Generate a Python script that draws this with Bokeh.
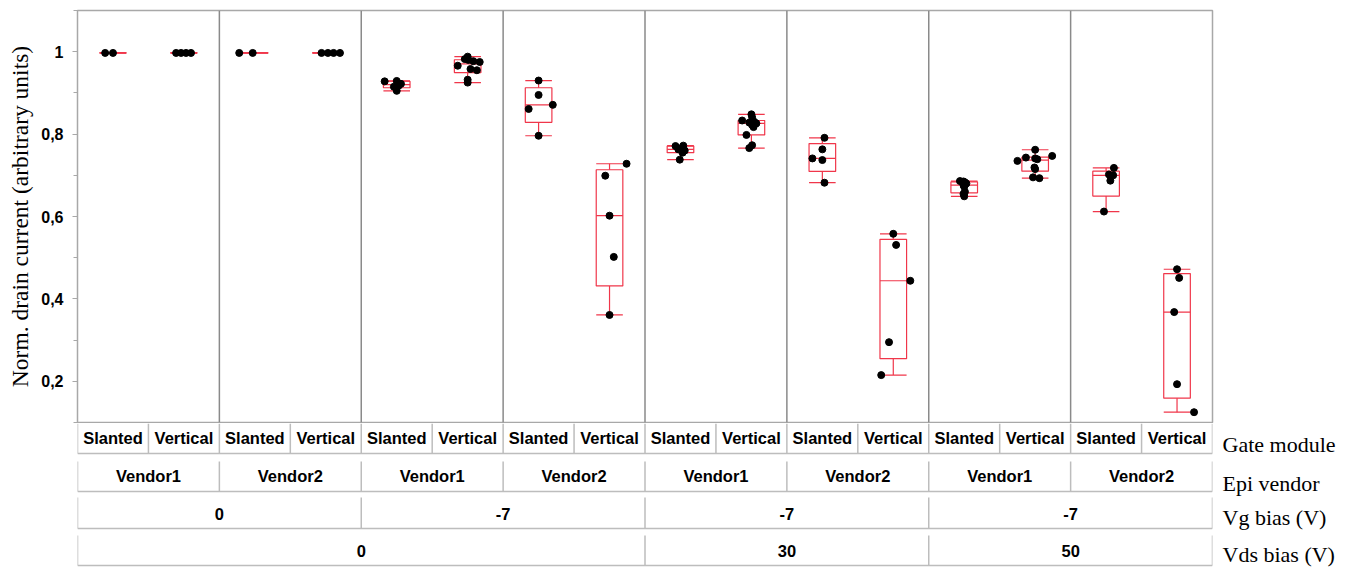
import numpy as np
from bokeh.plotting import figure
from bokeh.layouts import column
from bokeh.models import Range1d, FixedTicker, Span, LinearAxis
from bokeh.core.properties import value
from bokeh.embed import file_html
from bokeh.resources import INLINE

# ---------------- data ----------------
vds_bias = ["0"] * 8 + ["30"] * 4 + ["50"] * 4
vg_bias = ["0"] * 4 + ["-7"] * 12
epi_vendor = ["Vendor1", "Vendor1", "Vendor2", "Vendor2"] * 4
gate_module = ["Slanted", "Vertical"] * 8

row_titles = ["Gate module", "Epi vendor", "Vg bias (V)", "Vds bias (V)"]
y_ticks = [0.2, 0.4, 0.6, 0.8, 1.0]
y_tick_labels = ["0,2", "0,4", "0,6", "0,8", "1"]
y_minor = [0.1, 0.3, 0.5, 0.7, 0.9, 1.1]

# normalized drain current per group (16 groups, left to right)
g01 = [0.997, 0.997]
g02 = [0.997, 0.997, 0.997, 0.997]
g03 = [0.997, 0.997]
g04 = [0.997, 0.997, 0.997, 0.997]
g05 = [0.928, 0.929, 0.922, 0.918, 0.915, 0.905]
g06 = [0.988, 0.982, 0.980, 0.977, 0.975, 0.966, 0.958, 0.955, 0.932, 0.925]
g07 = [0.930, 0.895, 0.861, 0.871, 0.796]
g08 = [0.728, 0.699, 0.602, 0.502, 0.361]
g09 = [0.772, 0.771, 0.766, 0.763, 0.760, 0.755, 0.738]
g10 = [0.848, 0.841, 0.833, 0.830, 0.828, 0.826, 0.822, 0.817, 0.798, 0.773, 0.766]
g11 = [0.791, 0.763, 0.741, 0.737, 0.682]
g12 = [0.558, 0.531, 0.444, 0.295, 0.215]
g13 = [0.686, 0.685, 0.683, 0.680, 0.676, 0.672, 0.660, 0.655, 0.649]
g14 = [0.762, 0.747, 0.743, 0.741, 0.739, 0.735, 0.719, 0.715, 0.695, 0.693]
g15 = [0.718, 0.702, 0.700, 0.687, 0.612]
g16 = [0.472, 0.451, 0.368, 0.193, 0.125]
groups = [g01, g02, g03, g04, g05, g06, g07, g08, g09, g10, g11, g12, g13, g14, g15, g16]

# horizontal jitter of the points (fraction of a category width)
j01 = [-0.11, 0.0]
j02 = [-0.11, -0.04, 0.03, 0.10]
j03 = [-0.22, -0.03]
j04 = [-0.06, 0.03, 0.11, 0.20]
j05 = [-0.17, 0.0, 0.06, 0.03, -0.04, 0.0]
j06 = [0.0, -0.04, 0.01, 0.08, 0.17, -0.14, 0.04, 0.13, 0.0, 0.0]
j07 = [0.0, 0.0, -0.14, 0.20, 0.0]
j08 = [0.24, -0.06, 0.0, 0.06, 0.0]
j09 = [0.04, -0.07, 0.01, -0.03, 0.06, 0.03, -0.01]
j10 = [0.0, 0.01, -0.13, 0.04, -0.03, 0.07, 0.01, 0.03, -0.07, 0.01, -0.03]
j11 = [0.03, 0.0, -0.14, 0.0, 0.03]
j12 = [0.0, 0.04, 0.24, -0.06, -0.17]
j13 = [-0.06, -0.01, 0.01, 0.03, -0.01, 0.0, 0.01, -0.01, 0.0]
j14 = [0.0, 0.24, -0.13, 0.0, 0.03, -0.25, -0.01, 0.0, -0.03, 0.06]
j15 = [0.11, 0.04, 0.10, 0.06, -0.03]
j16 = [0.0, 0.03, -0.04, 0.0, 0.24]
jitters = [j01, j02, j03, j04, j05, j06, j07, j08, j09, j10, j11, j12, j13, j14, j15, j16]

# ---------------- styles / layout ----------------
W = 1345
LEFT = 77
RIGHT = 133
TOP = 10
MAIN_H = 423
ROWS_H = 144
BOX_W = 0.375
RED = "#f0364a"
SERIF = "Liberation Serif"
SANS = "Liberation Sans"
n_cat = len(gate_module)

p = figure(width=W, height=MAIN_H, x_range=Range1d(0, n_cat), y_range=Range1d(0.1, 1.1),
           toolbar_location=None, output_backend="svg", x_axis_location=None,
           min_border_left=LEFT, min_border_right=RIGHT, min_border_top=TOP,
           min_border_bottom=1)
p.xgrid.visible = False
p.ygrid.visible = False
p.outline_line_color = "#a8a8a8"
p.outline_line_width = 1.5

ax = p.yaxis[0]
ax.ticker = FixedTicker(ticks=y_ticks, minor_ticks=y_minor)
ax.major_label_overrides = {t: l for t, l in zip(y_ticks, y_tick_labels)}
ax.axis_line_color = "#a8a8a8"
ax.major_tick_line_color = "#a8a8a8"
ax.minor_tick_line_color = "#a8a8a8"
ax.major_tick_in = 0
ax.major_tick_out = 5
ax.minor_tick_in = 0
ax.minor_tick_out = 4
ax.major_label_standoff = 9
ax.major_label_text_font = SANS
ax.major_label_text_font_style = "bold"
ax.major_label_text_font_size = "16px"
ax.major_label_text_color = "black"
ax.axis_label = "Norm. drain current (arbitrary units)"
ax.axis_label_text_font = SERIF
ax.axis_label_text_font_style = "normal"
ax.axis_label_text_font_size = "23.5px"
ax.axis_label_text_color = "black"
ax.axis_label_standoff = 5

# separators between epi-vendor panels
for i in range(1, n_cat):
    if (vds_bias[i], vg_bias[i], epi_vendor[i]) != (vds_bias[i - 1], vg_bias[i - 1], epi_vendor[i - 1]):
        p.add_layout(Span(location=i, dimension="height", line_color="#8a8a8a", line_width=1.5))

# box plots (quartiles from the data)
bx_l, bx_r, q1s, q3s, meds, lo_w, hi_w, ctr = [], [], [], [], [], [], [], []
for i, vals in enumerate(groups):
    v = np.array(vals)
    q1, med, q3 = np.quantile(v, [0.25, 0.5, 0.75], method="weibull")
    iqr = q3 - q1
    lo = v[v >= q1 - 1.5 * iqr].min()
    hi = v[v <= q3 + 1.5 * iqr].max()
    c = i + 0.5
    ctr.append(c)
    bx_l.append(c - BOX_W / 2)
    bx_r.append(c + BOX_W / 2)
    q1s.append(q1)
    q3s.append(q3)
    meds.append(med)
    lo_w.append(lo)
    hi_w.append(hi)

p.quad(left=bx_l, right=bx_r, bottom=q1s, top=q3s, fill_color=None, line_color=RED, line_width=1.2)
p.segment(x0=bx_l, x1=bx_r, y0=meds, y1=meds, line_color=RED, line_width=1.2)
p.segment(x0=ctr, x1=ctr, y0=q3s, y1=hi_w, line_color=RED, line_width=1.2)
p.segment(x0=ctr, x1=ctr, y0=q1s, y1=lo_w, line_color=RED, line_width=1.2)
p.segment(x0=bx_l, x1=bx_r, y0=hi_w, y1=hi_w, line_color=RED, line_width=1.2)
p.segment(x0=bx_l, x1=bx_r, y0=lo_w, y1=lo_w, line_color=RED, line_width=1.2)

px, py = [], []
for i, (vals, jit) in enumerate(zip(groups, jitters)):
    for v, j in zip(vals, jit):
        px.append(i + 0.5 + j)
        py.append(v)
p.scatter(px, py, size=7, color="black", line_color="black")

# ---------------- category rows ----------------
r = figure(width=W, height=ROWS_H, x_range=Range1d(0, n_cat),
           y_range=Range1d(ROWS_H, 0), toolbar_location=None, output_backend="svg",
           x_axis_location=None, y_axis_location=None,
           min_border_left=LEFT, min_border_right=RIGHT, min_border_top=0, min_border_bottom=0)
r.xgrid.visible = False
r.ygrid.visible = False
r.outline_line_color = None

levels = [vds_bias, vg_bias, epi_vendor, gate_module]   # outer -> inner
row_tops = [0, 38, 74, 112]       # gate, epi, vg, vds (pixels from top of the strip)
row_bots = [30, 68, 105, 142]
row_order = [3, 2, 1, 0]          # level index for each displayed row
text_dy = [-1, -1, 1, 0]
title_dy = [6, 7, 4, 4]

LINE = "#bdbdbd"
title_pos = []
for k, lev in enumerate(row_order):
    keys = [tuple(levels[m][i] for m in range(lev + 1)) for i in range(n_cat)]
    starts = [0] + [i for i in range(1, n_cat) if keys[i] != keys[i - 1]]
    ends = starts[1:] + [n_cat]
    top, bot = row_tops[k], row_bots[k]
    xs = starts + [n_cat]
    r.segment(x0=xs, x1=xs, y0=[top] * len(xs), y1=[bot] * len(xs), line_color=LINE, line_width=1.5)
    r.segment(x0=[0], x1=[n_cat], y0=[bot], y1=[bot], line_color=LINE, line_width=1.5)
    mids = [(s + e) / 2 for s, e in zip(starts, ends)]
    labs = [levels[lev][s] for s in starts]
    r.text(x=mids, y=[(top + bot) / 2 + text_dy[k]] * len(mids), text=labs, text_align="center",
           text_baseline="middle", text_font=value(SANS), text_font_style="bold",
           text_font_size="16.5px", text_color="black")
    title_pos.append((top + bot) / 2 + title_dy[k])

# row titles as labels of a right-hand axis
tax = LinearAxis(ticker=FixedTicker(ticks=title_pos, minor_ticks=[]),
                 major_label_overrides={t: s for t, s in zip(title_pos, row_titles)})
tax.axis_line_color = None
tax.major_tick_line_color = None
tax.minor_tick_line_color = None
tax.major_tick_out = 0
tax.major_tick_in = 0
tax.major_label_standoff = 10
tax.major_label_text_font = SERIF
tax.major_label_text_font_style = "normal"
tax.major_label_text_font_size = "22px"
tax.major_label_text_color = "black"
r.add_layout(tax, "right")

layout = column(p, r, spacing=0)
open("out.html", "w").write(file_html(layout, INLINE))
